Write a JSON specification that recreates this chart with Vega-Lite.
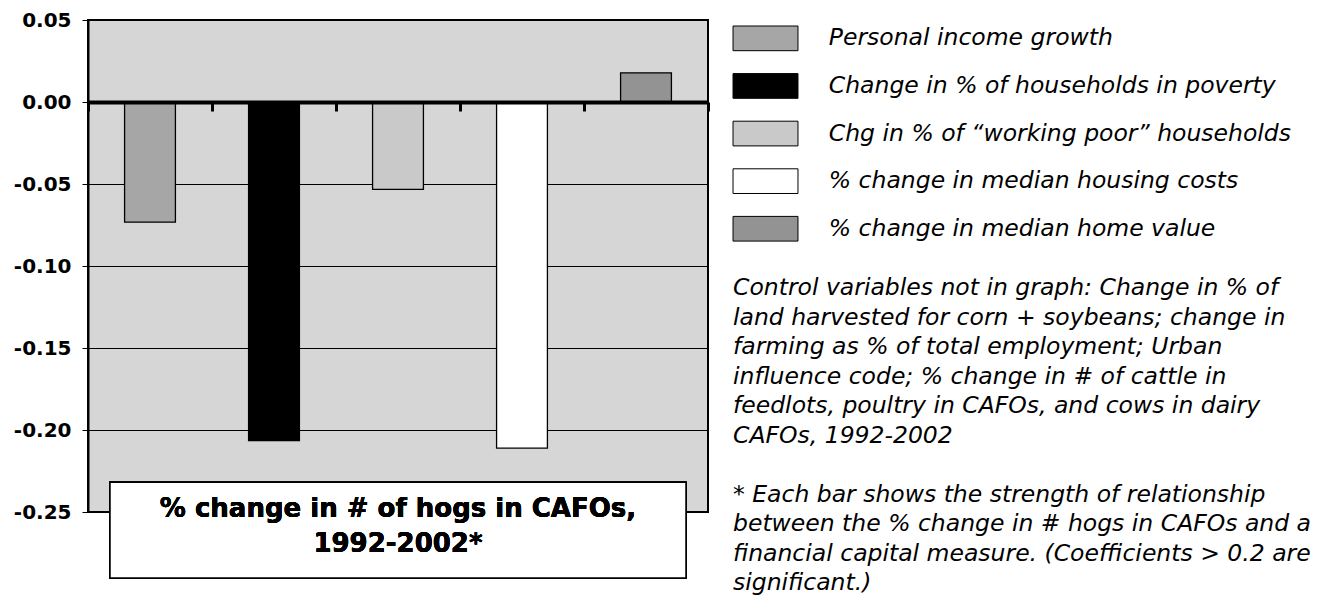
{
  "$schema": "https://vega.github.io/schema/vega-lite/v6.json",
  "autosize": {"type": "none"},
  "padding": {"left": 88, "top": 20, "right": 625, "bottom": 84},
  "width": 620,
  "height": 492,
  "background": "white",
  "config": {
    "view": {"fill": "#D6D6D6", "stroke": "black", "strokeWidth": 2},
    "font": "DejaVu Sans"
  },
  "data": {
    "values": [
      {"measure": "Personal income growth", "coef": -0.0733},
      {"measure": "Change in % of households in poverty", "coef": -0.2065},
      {"measure": "Chg in % of “working poor” households", "coef": -0.0533},
      {"measure": "% change in median housing costs", "coef": -0.2111},
      {"measure": "% change in median home value", "coef": 0.0178}
    ]
  },
  "layer": [
    {
      "mark": {"type": "bar", "stroke": "black", "strokeWidth": 1.3, "width": {"band": 0.41}},
      "encoding": {
        "x": {
          "field": "measure",
          "type": "nominal",
          "sort": null,
          "scale": {
            "domain": ["Personal income growth", "Change in % of households in poverty", "Chg in % of “working poor” households", "% change in median housing costs", "% change in median home value"],
            "paddingInner": 0,
            "paddingOuter": 0
          },
          "axis": {
            "title": null,
            "labels": false,
            "offset": -410,
            "tickBand": "extent",
            "domainColor": "black",
            "domainWidth": 4,
            "tickColor": "black",
            "tickWidth": 3,
            "tickSize": 9,
            "grid": false,
            "zindex": 2
          }
        },
        "y": {
          "field": "coef",
          "type": "quantitative",
          "scale": {"domain": [-0.25, 0.05], "nice": false, "zero": false},
          "axis": {
            "title": null,
            "values": [0.05, 0, -0.05, -0.1, -0.15, -0.2, -0.25],
            "labelExpr": "replace(format(datum.value, '.2f'), '\u2212', '-')",
            "labelFont": "DejaVu Sans",
            "labelFontSize": 20,
            "labelFontWeight": "bold",
            "labelColor": "black",
            "labelPadding": 11,
            "tickColor": "black",
            "tickSize": 6,
            "tickWidth": 1,
            "domainColor": "black",
            "domainWidth": 2,
            "grid": true,
            "gridColor": "black",
            "gridWidth": 1,
            "gridOpacity": 1
          }
        },
        "fill": {
          "field": "measure",
          "type": "nominal",
          "scale": {
            "domain": ["Personal income growth", "Change in % of households in poverty", "Chg in % of “working poor” households", "% change in median housing costs", "% change in median home value"],
            "range": ["#A6A6A6", "#000000", "#C9C9C9", "#FFFFFF", "#939393"]
          },
          "legend": {
            "orient": "none",
            "legendX": 645,
            "legendY": 5.35,
            "padding": 0,
            "title": [
              "Control variables not in graph: Change in % of",
              "land harvested for corn + soybeans; change in",
              "farming as % of total employment; Urban",
              "influence code; % change in # of cattle in",
              "feedlots, poultry in CAFOs, and cows in dairy",
              "CAFOs, 1992-2002",
              "\u200b",
              "* Each bar shows the strength of relationship",
              "between the % change in # hogs in CAFOs and a",
              "financial capital measure. (Coefficients > 0.2 are",
              "significant.)"
            ],
            "titleOrient": "bottom",
            "titleAnchor": "start",
            "titleAlign": "left",
            "titleFont": "DejaVu Sans",
            "titleFontSize": 23.5,
            "titleFontStyle": "italic",
            "titleFontWeight": "normal",
            "titleColor": "black",
            "titleLineHeight": 29.5,
            "titleLimit": 1000,
            "titlePadding": 32.8,
            "symbolType": "M-2.63,-1H2.63V1H-2.63Z",
            "symbolSize": 610,
            "symbolStrokeColor": "black",
            "symbolStrokeWidth": 1,
            "symbolOpacity": 1,
            "symbolOffset": 19.5,
            "labelOffset": 50.3,
            "labelFont": "DejaVu Sans",
            "labelFontSize": 23.5,
            "labelFontStyle": "italic",
            "labelColor": "black",
            "labelLimit": 1000,
            "rowPadding": 17.6
          }
        }
      }
    },
    {
      "mark": {"type": "bar", "width": 576, "fill": "white", "stroke": "black", "strokeWidth": 1.5},
      "encoding": {
        "x": {"datum": "Chg in % of “working poor” households", "type": "nominal"},
        "y": {"datum": -0.2319, "type": "quantitative"},
        "y2": {"datum": -0.2902}
      }
    },
    {
      "mark": {
        "type": "text",
        "text": ["% change in # of hogs in CAFOs,", "1992-2002*"],
        "font": "DejaVu Sans",
        "fontSize": 26,
        "fontWeight": "bold",
        "lineHeight": 35,
        "align": "center",
        "baseline": "middle",
        "color": "black"
      },
      "encoding": {
        "x": {"datum": "Chg in % of “working poor” households", "type": "nominal"},
        "y": {"datum": -0.2479, "type": "quantitative"}
      }
    }
  ]
}
